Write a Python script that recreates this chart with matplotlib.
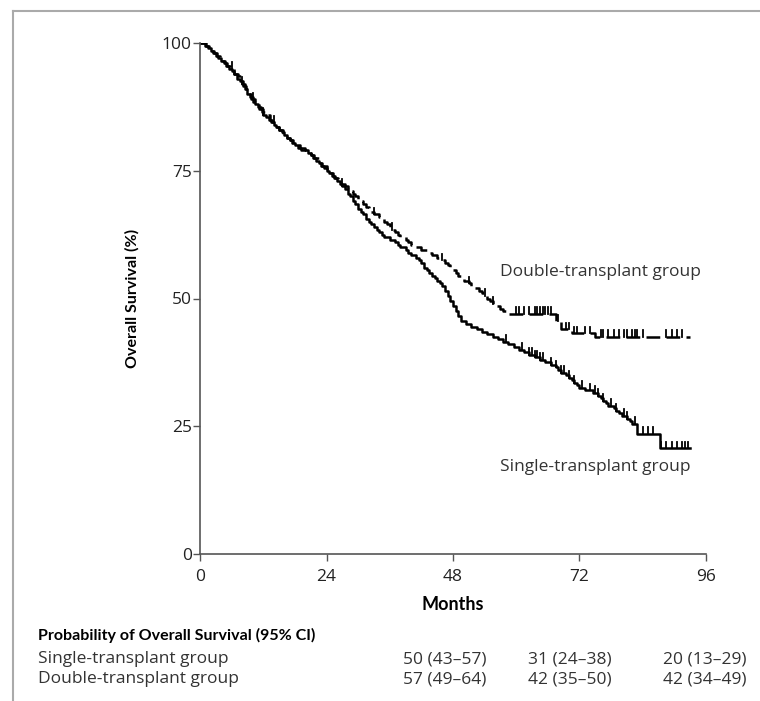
import matplotlib
matplotlib.use("Agg")
import matplotlib.pyplot as plt
from matplotlib.lines import Line2D

plt.rcParams['font.family'] = ['Open Sans', 'DejaVu Sans']

# Kaplan-Meier steps (months, survival %)
single_t = [0, 1, 1.5, 2, 2.5, 3, 3.5, 4, 4.5, 5, 5.5, 6, 6.5, 7, 7.5, 8, 8.5, 9, 9.5, 10,
            10.5, 11, 11.5, 12, 12.5, 13, 13.5, 14, 14.5, 15, 15.5, 16, 16.5, 17, 17.5, 18, 19, 20, 20.5, 21,
            21.5, 22, 22.5, 23, 23.5, 24, 24.5, 25, 25.5, 26, 26.5, 27, 27.5, 28, 28.5, 29, 29.5, 30, 30.5, 31,
            31.5, 32, 32.5, 33, 33.5, 34, 34.5, 35, 36, 37, 37.5, 38, 39, 39.5, 40, 41, 41.5, 42, 42.5, 43,
            43.5, 44, 44.5, 45, 45.5, 46, 46.5, 47, 47.5, 48, 48.5, 49, 49.5, 50.5, 51.5, 52.5, 53.5, 54.5, 55.5, 56.5,
            57.5, 58.5, 59.5, 60.5, 61.5, 62.5, 63.5, 64.5, 65.5, 66.5, 67.5, 68, 68.5, 69.5, 70, 70.5, 71, 71.5, 72, 73,
            74.5, 75.5, 76, 76.5, 77, 77.5, 78.5, 79, 79.5, 80, 81, 81.5, 82, 83, 87.3, 93]
single_s = [100, 99.5, 99, 98.5, 98, 97.5, 97, 96.5, 96, 95.5, 95, 94.5, 94, 93, 92.5, 92, 91, 90, 89.5, 88.5,
            88, 87.5, 87, 86, 85.5, 85, 84.5, 84, 83.5, 83, 82.5, 82, 81.5, 81, 80.5, 80, 79.5, 79, 78.5, 78,
            77.5, 77, 76.5, 76, 75.5, 75, 74.5, 74, 73.5, 73, 72.5, 72, 71.5, 70.5, 70, 69, 68.5, 67.5, 67, 66.5,
            65.5, 65, 64.5, 64, 63.5, 63, 62.5, 62, 61.5, 61, 60.5, 60, 59.5, 59, 58.5, 58, 57.5, 57, 56, 55.5,
            55, 54.5, 54, 53.5, 53, 52.5, 51.5, 50.5, 49.5, 48.5, 47.5, 46.5, 45.5, 45, 44.5, 44, 43.5, 43, 42.5, 42,
            41.5, 41, 40.5, 40, 39.5, 39, 38.5, 38, 37.5, 37, 36.5, 36, 35.5, 35, 34.5, 34, 33.5, 33, 32.5, 32,
            31.5, 31, 30.5, 30, 29.5, 29, 28.5, 28, 27.5, 27, 26.5, 26, 25.5, 23.5, 20.7, 20.7]

double_t = [0, 1.2, 1.7, 2.2, 2.7, 3.2, 3.7, 4.2, 4.7, 5.2, 5.7, 6.5, 7.2, 7.7, 8.2, 8.7, 9.2, 9.7, 10.5, 11.2,
            11.7, 12.5, 13.2, 13.7, 14.2, 15, 15.7, 16.5, 17, 17.7, 18.5, 19.2, 20.2, 21, 21.7, 22.5, 23.2, 24, 24.7, 25.2,
            25.7, 26.2, 26.7, 27.5, 28, 28.5, 29, 29.5, 30, 30.5, 31, 31.5, 32, 32.5, 33, 34, 34.5, 35, 35.5, 36,
            36.5, 37, 37.5, 38, 39, 39.5, 40, 41, 42, 43, 44, 45, 46, 46.5, 47, 47.5, 48, 48.5, 49, 49.5,
            50, 51, 51.5, 52, 53, 53.5, 54, 54.5, 55, 55.5, 56, 57, 57.5, 58, 67.5, 68.5, 70.5, 75, 93]
double_s = [100, 99.5, 99, 98.5, 98, 97.5, 97, 96.5, 96, 95.5, 95, 94, 93.5, 92.5, 91.5, 91, 90, 89, 88, 87,
            86.5, 86, 85, 84.5, 83.5, 83, 82, 81.5, 81, 80, 79.5, 79, 78.5, 78, 77.5, 76.5, 76, 75, 74.5, 74,
            73.5, 73, 72.5, 72, 71.5, 71, 70.5, 70, 69.5, 69, 68.5, 68, 67.5, 67, 66.5, 66, 65.5, 65, 64.5, 64,
            63.5, 63, 62.5, 62, 61.5, 61, 60.5, 60, 59.5, 59, 58.5, 58, 57.5, 57, 56.5, 56, 55.5, 55, 54.5, 54,
            53.5, 53, 52.5, 52, 51.5, 51, 50.5, 50, 49.5, 49, 48.5, 48, 47.5, 47, 45.5, 44, 43.2, 42.5, 42.5]

# censoring marks (months)
single_cens = [8, 12, 27, 58, 61, 62.5, 63, 63.5, 64, 64.5, 65, 66.5, 67.5, 68.5, 69, 70, 71, 72.5, 74,
               75, 75.5, 76.5, 78, 79, 80.5, 81, 82.5, 84, 85, 86, 87.5, 88.5, 89.5, 90.5, 91.5, 92, 92.5]
double_cens = [6, 10, 14, 33, 36.5, 46, 51, 54, 55.5, 60, 60.5, 61.5, 62.5, 63.5, 64, 64.5, 65, 65.5, 66,
               66.5, 68, 69.5, 70, 71, 71.5, 73, 74, 76, 76.5, 77.5, 78.5, 79.5, 80.5, 81, 82, 82.5, 83, 84,
               88.5, 89.5, 90.5, 91.5]

months_ticks = [0, 24, 48, 72, 96]
surv_ticks = [0, 25, 50, 75, 100]

row_names = ["Single-transplant group", "Double-transplant group"]
single_ci = ["50 (43\u201357)", "31 (24\u201338)", "20 (13\u201329)"]
double_ci = ["57 (49\u201364)", "42 (35\u201350)", "42 (34\u201349)"]

bold_font = ['Lato', 'DejaVu Sans']


def surv_at(t, s, x):
    v = s[0]
    for ti, si in zip(t, s):
        if ti <= x:
            v = si
    return v


fig = plt.figure(figsize=(7.6, 7.01), dpi=100)
ax = fig.add_axes([200 / 760, 1 - 554 / 701, 506 / 760, 511 / 701])

ax.step(single_t, single_s, where='post', color='black', lw=1.8)
ax.step(double_t, double_s, where='post', color='black', lw=1.8, dashes=(5.5, 2.5))

for c in single_cens:
    y = surv_at(single_t, single_s, c)
    ax.plot([c, c], [y, y + 1.3], color='black', lw=1.3)
for c in double_cens:
    y = surv_at(double_t, double_s, c)
    ax.plot([c, c], [y, y + 1.3], color='black', lw=1.3)

ax.set_xlim(0, 96)
ax.set_ylim(0, 100)
ax.set_xticks(months_ticks)
ax.set_yticks(surv_ticks)
ax.spines['top'].set_visible(False)
ax.spines['right'].set_visible(False)
for sp in ['left', 'bottom']:
    ax.spines[sp].set_color('#555555')
    ax.spines[sp].set_linewidth(1.2)
ax.tick_params(direction='out', length=5, width=1, color='#555555',
               labelsize=12.5, labelcolor='#222222')
ax.tick_params(axis='x', pad=6)
ax.tick_params(axis='y', pad=1)
ax.set_xlabel("Months", fontsize=13, fontweight='bold', family=bold_font, labelpad=8)
ax.set_ylabel("Overall Survival (%)", fontsize=11.5, fontweight='bold', family=bold_font, labelpad=16)

ax.text(57, 55.2, "Double-transplant group", fontsize=12.5, color='#333333', va='center')
ax.text(57, 17, "Single-transplant group", fontsize=12.5, color='#333333', va='center')

# survival table under the plot
fig.text(38 / 760, 1 - 635 / 701, "Probability of Overall Survival (95% CI)",
         fontsize=11.5, fontweight='bold', family=bold_font, va='center')
col_x = [445, 570, 705]
for row, (name, vals) in enumerate(zip(row_names, [single_ci, double_ci])):
    yy = 1 - (659 + row * 20) / 701
    fig.text(38 / 760, yy, name, fontsize=12.5, color='#333333', va='center')
    for cx, v in zip(col_x, vals):
        fig.text(cx / 760, yy, v, fontsize=12.5, color='#333333', va='center', ha='center')

# partial frame around the figure
fig.add_artist(Line2D([13 / 760, 13 / 760], [0, 1 - 11 / 701], color='#aaaaaa', lw=1.5))
fig.add_artist(Line2D([13 / 760, 1], [1 - 11 / 701, 1 - 11 / 701], color='#aaaaaa', lw=1.5))

fig.savefig("out.png", dpi=100)
